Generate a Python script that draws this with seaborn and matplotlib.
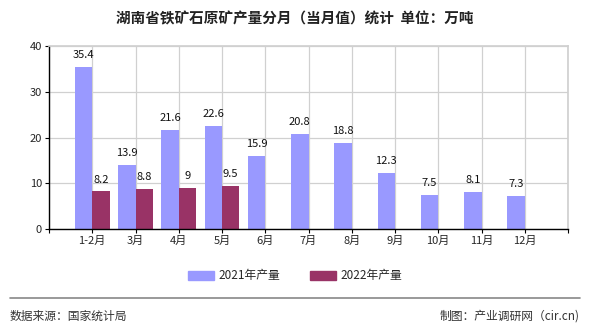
import matplotlib
matplotlib.use("Agg")
import matplotlib.pyplot as plt
import seaborn as sns
import pandas as pd
import numpy as np

months = ["1-2月", "3月", "4月", "5月", "6月", "7月", "8月", "9月", "10月", "11月", "12月"]
v2021 = [35.4, 13.9, 21.6, 22.6, 15.9, 20.8, 18.8, 12.3, 7.5, 8.1, 7.3]
v2022 = [8.2, 8.8, 9, 9.5, None, None, None, None, None, None, None]
series_names = ["2021年产量", "2022年产量"]
colors = ["#9999FF", "#993366"]
yticks = [0, 10, 20, 30, 40]

sns.set_theme(style="white")
plt.rcParams['font.family'] = ['Noto Sans CJK SC', 'DejaVu Sans']

rows = []
for m, a, b in zip(months, v2021, v2022):
    rows.append({"month": m, "series": series_names[0], "value": a})
    rows.append({"month": m, "series": series_names[1], "value": np.nan if b is None else b})
df = pd.DataFrame(rows)

fig = plt.figure(figsize=(5.9, 3.3), dpi=100)
ax = fig.add_axes([49/590, 1-229/330, (568-49)/590, (229-46)/330])

sns.barplot(data=df, x="month", y="value", hue="series", order=months,
            hue_order=series_names, palette=colors, width=0.8, saturation=1,
            ax=ax, legend=True, errorbar=None, linewidth=0)

for cont in ax.containers:
    labels = []
    for bar in cont:
        h = bar.get_height()
        labels.append("" if (h is None or np.isnan(h)) else f"{h:g}")
    ax.bar_label(cont, labels=labels, padding=5, fontsize=8, color="#111111")

ax.set_xlim(-1, 11)
ax.set_ylim(0, 40)
ax.set_yticks(yticks)
ax.set_yticklabels([str(t) for t in yticks], fontsize=8)
ax.set_xticks(range(-1, 12))
ax.set_xticklabels([""] + months + [""], fontsize=8)
ax.set_xlabel("")
ax.set_ylabel("")
ax.grid(True, color="#d0d0d0", linewidth=0.9)
ax.set_axisbelow(True)
for s in ["top", "right"]:
    ax.spines[s].set_color("#d0d0d0")
for s in ["left", "bottom"]:
    ax.spines[s].set_color("#000000")
    ax.spines[s].set_linewidth(1.0)
ax.tick_params(axis="both", which="both", length=3, width=0.8, color="#000000", pad=2, bottom=True, left=True)

ax.legend_.remove()
handles = [plt.Rectangle((0, 0), 1, 1, color=c) for c in colors]
fig.legend(handles, series_names, loc="center", bbox_to_anchor=(0.5, 1-276/330), ncol=2,
           frameon=False, fontsize=8.5, handlelength=2.2, handleheight=0.8, columnspacing=2.5, handletextpad=0.4)

fig.text(0.5, 1-18/330, "湖南省铁矿石原矿产量分月（当月值）统计  单位：万吨", ha="center", va="center",
         fontsize=10.5, fontweight="bold", color="#222222")
fig.add_artist(plt.Line2D([10/590, 580/590], [1-298/330, 1-298/330], color="#888888", linewidth=1.2))
fig.text(10/590, 1-316/330, "数据来源：国家统计局", ha="left", va="center", fontsize=8.5, color="#333333")
fig.text(580/590, 1-316/330, "制图：产业调研网（cir.cn)", ha="right", va="center", fontsize=8.5, color="#333333")

fig.savefig("out.png", dpi=100)
